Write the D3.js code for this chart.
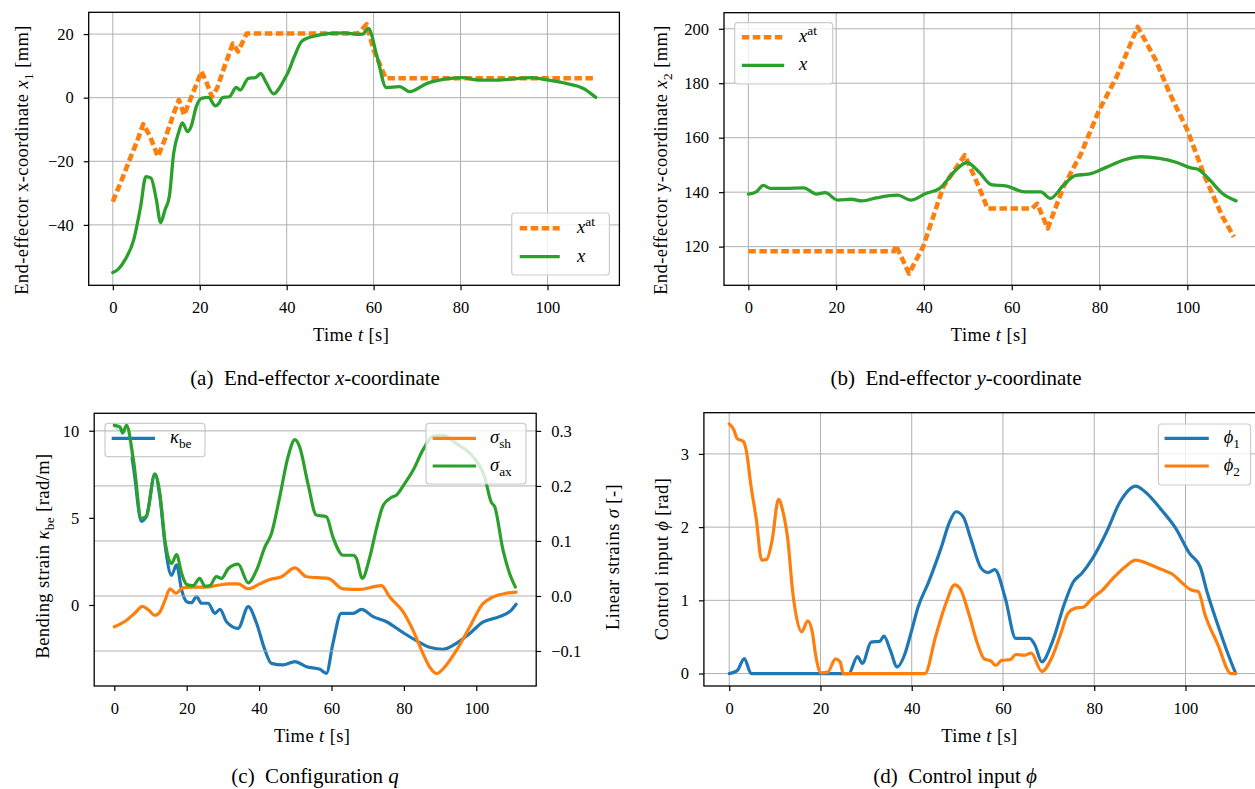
<!DOCTYPE html>
<html><head><meta charset="utf-8">
<script src="https://cdn.jsdelivr.net/npm/d3@7"></script>
<style>body{margin:0;background:#fff}</style>
</head><body><svg id="c" width="1255" height="789"></svg>
<script>
// ---------------- DATA ----------------
const timeTicks = [0, 20, 40, 60, 80, 100];
const timeDomain = [-5.55, 116.55];

// (a) end-effector x-coordinate [mm]
const aYTicks = [-40, -20, 0, 20];
const aRef = [[0,-32.7],[2,-26],[4,-19],[5.5,-14],[7,-8.3],[8.5,-12],[10.4,-18.5],[12,-13],[14,-5],[15.2,-0.7],[16.4,-5.4],[18,0],[20.4,8.2],[21.5,5],[22.8,0.3],[24,3],[25.5,9],[27.6,17],[28.8,14.5],[30.8,20.2],[56.4,20.2],[58.4,23.1],[60,15],[62.8,6.1],[110.7,6.1]];
const aMeas = [[0,-55],[1.2,-54],[2.8,-51],[4.8,-44.7],[6.4,-34.2],[7.6,-24.8],[8.8,-25.3],[10,-32],[11,-39.3],[12,-35.3],[13,-31.1],[14,-17.5],[15.2,-10.7],[16,-7.9],[17.2,-10.7],[18,-9.1],[19.2,-2.8],[20.4,-0.2],[22,0.1],[23.6,-2.6],[24.4,-1.8],[25.2,0],[26.8,0.3],[28.4,3.2],[29.3,2.4],[31.2,6.1],[32.8,6.3],[34,7.6],[35.2,5],[37,1.2],[38.4,3.2],[39.6,6.1],[40.4,8.2],[41.6,12.4],[43.6,17.9],[46.8,19.5],[50,20.2],[53.2,20.4],[56.4,19.9],[57.5,20],[58.8,21.8],[60.8,12.9],[62.9,3.2],[66,3.5],[68.3,1.9],[72.3,4.5],[76.3,5.8],[80.3,6.3],[84.3,5.5],[88.3,5.5],[92.3,5.9],[96.3,6.3],[100.3,5.5],[104.3,4.5],[108.3,2.9],[111.1,0.1]];

// (b) end-effector y-coordinate [mm]
const bYTicks = [120, 140, 160, 180, 200];
const bRef = [[0,118.3],[33.2,118.3],[33.6,120.5],[36.6,110.1],[39.8,119.9],[44.4,142],[49.3,153.6],[52.5,142],[54.5,134],[64.6,134],[65.8,135.8],[68.2,126.7],[71.8,142],[75.8,154.2],[79.9,170.1],[83.9,182.4],[88.7,200.7],[92.8,188.5],[96,176.2],[100,162.8],[104,145.6],[108,131],[110.6,123.6]];
const bMeas = [[0,139.3],[1.8,140.1],[3.4,142.5],[5,141.4],[8.2,141.4],[12.6,141.6],[15.5,139.3],[17.5,139.8],[20.3,137.1],[23.5,137.4],[25.9,136.8],[29.1,137.9],[34,138.9],[37,137.1],[40.4,139.5],[43.6,141.4],[46.9,147.5],[49.8,150.9],[52.5,147.5],[55.3,142.8],[58.9,142.2],[63,140.1],[66.6,140.1],[68.8,137.7],[71.8,142.6],[74.6,146.2],[77.5,146.6],[81.5,149.1],[85.5,151.8],[89.5,153],[93.6,152.4],[97.6,150.9],[100.8,148.9],[102.4,148.4],[104.8,145],[108,139.5],[111.1,136.8]];

// (c) configuration q
const cLeftTicks = [0, 5, 10];
const cRightTicks = [-0.1, 0.0, 0.1, 0.2, 0.3];
const cKappa = [[0,10.27],[2,10],[3.4,10.2],[5.3,7.9],[7.5,4.8],[8.9,5.1],[11.2,7.5],[12.6,6.2],[14,3.5],[15.8,1.7],[17.2,2.3],[18.6,0.86],[20,0.19],[21.3,0.13],[22.7,0.48],[24.1,0.1],[25.9,0.1],[27.8,-0.48],[29.2,-0.25],[31,-0.96],[34.2,-1.34],[37,-0.1],[39.3,-1.05],[41.6,-2.58],[43.4,-3.35],[46.6,-3.44],[49.9,-3.25],[53.1,-3.54],[56.8,-3.69],[58.6,-3.92],[60.4,-2.2],[62.7,-0.48],[66,-0.48],[68.3,-0.25],[71.5,-0.67],[75.2,-0.96],[79.8,-1.59],[83.9,-2.1],[87.1,-2.43],[90.8,-2.54],[94.5,-2.2],[98.2,-1.63],[101.8,-0.99],[106.4,-0.67],[109.7,-0.29],[111,0.04]];
const cSigmaSh = [[0,-0.056],[3.4,-0.044],[5.7,-0.031],[7.8,-0.019],[9.4,-0.025],[11.2,-0.035],[12.6,-0.029],[14,-0.008],[15.4,0.013],[17,0.005],[19,0.015],[21.8,0.016],[25.5,0.016],[28.2,0.019],[31.9,0.022],[34.2,0.022],[37,0.013],[40.2,0.022],[43,0.03],[46.2,0.035],[49.9,0.051],[53.1,0.035],[59.1,0.032],[63.2,0.013],[67.8,0.012],[73.8,0.019],[76.1,-0.002],[79.8,-0.029],[82.5,-0.062],[85.3,-0.105],[87.1,-0.129],[89,-0.141],[91.3,-0.129],[94.5,-0.099],[98.2,-0.056],[101.8,-0.014],[104.6,-0.002],[108.3,0.005],[111,0.007]];
const cSigmaAx = [[0,0.31],[1.6,0.307],[2.3,0.296],[3.4,0.31],[5.3,0.247],[7.5,0.141],[8.9,0.145],[11.2,0.222],[12.6,0.186],[14,0.101],[15.8,0.059],[17.2,0.075],[18.6,0.041],[20,0.021],[21.8,0.019],[23.6,0.032],[25,0.018],[26.4,0.019],[28.2,0.035],[29.6,0.032],[31.5,0.05],[34.2,0.058],[37,0.024],[39.3,0.047],[41.6,0.089],[43.4,0.113],[45.7,0.18],[48,0.253],[49.9,0.284],[51.2,0.271],[53.5,0.204],[55.8,0.147],[58.6,0.144],[60.4,0.107],[63.2,0.074],[66,0.074],[66.9,0.068],[68.5,0.032],[70.6,0.071],[72.4,0.122],[74.3,0.165],[76.5,0.179],[77.9,0.183],[80.2,0.204],[82.5,0.228],[85.3,0.266],[88,0.29],[90.8,0.292],[94.5,0.277],[99.1,0.253],[102.3,0.216],[104.1,0.171],[105.1,0.162],[107.4,0.083],[109.2,0.041],[110.8,0.016]];

// (d) control input
const dYTicks = [0, 1, 2, 3];
const dPhi1 = [[0,0],[1.75,0.04],[3.3,0.205],[4.8,0],[26.2,0],[28.1,0.23],[29.2,0.14],[31.1,0.43],[33,0.44],[33.9,0.51],[35.3,0.32],[36.8,0.09],[38.4,0.25],[39.9,0.57],[41.4,0.91],[43.7,1.25],[46.4,1.71],[48.3,2.07],[49.7,2.21],[51.3,2.14],[52.9,1.85],[55.2,1.44],[56.7,1.38],[58.2,1.42],[60.5,1.03],[62.8,0.48],[65.8,0.48],[67,0.39],[68.5,0.16],[70.8,0.43],[73.5,0.96],[75.4,1.25],[77.3,1.37],[79.6,1.57],[82.6,1.92],[85.7,2.35],[89.1,2.56],[91,2.49],[94.8,2.23],[97.9,1.98],[100.9,1.64],[103.2,1.46],[104.7,1.12],[107,0.68],[109.3,0.27],[111,0]];
const dPhi2 = [[0,3.41],[1,3.33],[1.75,3.21],[3.1,3.17],[3.7,3.06],[4.8,2.55],[5.95,2.1],[7.1,1.55],[8.2,1.56],[9.4,1.82],[10.8,2.38],[11.7,2.23],[12.8,1.85],[13.96,1.09],[15.9,0.57],[17.2,0.72],[18.2,0.57],[18.9,0.27],[20.1,0.01],[21.6,0.02],[23.3,0.2],[24.3,0.16],[25,0],[42.9,0],[45.2,0.5],[47.5,0.96],[49.4,1.21],[50.6,1.16],[52.5,0.82],[54.4,0.41],[55.9,0.2],[57.4,0.17],[58.4,0.11],[59.7,0.18],[61.6,0.19],[62.8,0.26],[64.7,0.25],[66.2,0.28],[68.5,0.03],[70.8,0.23],[72.7,0.55],[74.2,0.82],[75.7,0.89],[77.7,0.91],[79.6,1.03],[81.8,1.14],[84.1,1.3],[86.8,1.46],[89.1,1.55],[91.8,1.5],[94.8,1.42],[97.1,1.36],[99.4,1.23],[101.3,1.14],[102.8,1.12],[104.3,0.8],[107,0.41],[110,0],[111,0]];

// ---------------- STYLE ----------------
const FONT = "'Liberation Serif', 'DejaVu Serif', serif";
const FS = 16.5;     // tick labels
const FL = 18.5;     // axis labels
const FC = 21;       // captions
const FLEG = 18.5;   // legend text
const BLUE = "#1f77b4", ORANGE = "#ff7f0e", GREEN = "#2ca02c";
const GRID = "#b0b0b0";
const svg = d3.select("#c");
svg.append("rect").attr("width",1255).attr("height",789).attr("fill","#fff");

function rich(sel, parts, fs){
  let cur = 0;
  parts.forEach(p => {
    const ts = sel.append("tspan").text(p.s);
    let target = 0, size = fs;
    if (p.sub){ target = fs*0.28; size = fs*0.72; }
    if (p.sup){ target = -fs*0.38; size = fs*0.72; }
    if (target !== cur){ ts.attr("dy", target-cur); cur = target; }
    ts.attr("font-size", size);
    if (p.it) ts.attr("font-style","italic");
  });
  return sel;
}
function label(x, y, parts, fs, anchor, rot, ls){
  const t = svg.append("text").attr("font-family",FONT).attr("font-size",fs)
    .attr("text-anchor",anchor||"middle").attr("fill","#000");
  if (ls) t.attr("letter-spacing", ls);
  if (rot) t.attr("transform",`translate(${x},${y}) rotate(-90)`);
  else t.attr("x",x).attr("y",y);
  return rich(t, parts, fs);
}
const fmtNum = d => (d<0?"\u2212":"") + Math.abs(d);
const fmt1 = d => (d<0?"\u2212":"") + Math.abs(d).toFixed(1);

function styleAxis(g){
  g.select(".domain").remove();
  g.selectAll("line").attr("stroke","#000").attr("stroke-width",1.2);
  g.selectAll("text").attr("font-family",FONT).attr("font-size",FS).attr("fill","#000");
}
function frame(L){
  svg.append("rect").attr("x",L.l).attr("y",L.t).attr("width",L.r-L.l).attr("height",L.b-L.t)
    .attr("fill","none").attr("stroke","#000").attr("stroke-width",1.3);
}
function vgrid(L, x){
  svg.append("g").selectAll("line").data(timeTicks).join("line")
    .attr("x1",d=>x(d)).attr("x2",d=>x(d)).attr("y1",L.t).attr("y2",L.b)
    .attr("stroke",GRID).attr("stroke-width",1);
}
function hgrid(L, y, ticks){
  svg.append("g").selectAll("line").data(ticks).join("line")
    .attr("y1",d=>y(d)).attr("y2",d=>y(d)).attr("x1",L.l).attr("x2",L.r)
    .attr("stroke",GRID).attr("stroke-width",1);
}
function clipFor(id, L){
  svg.append("clipPath").attr("id",id).append("rect")
    .attr("x",L.l).attr("y",L.t).attr("width",L.r-L.l).attr("height",L.b-L.t);
}
function drawLine(data, x, y, color, opts){
  opts = opts||{};
  const gen = d3.line().x(d=>x(d[0])).y(d=>y(d[1]))
    .curve(opts.linear ? d3.curveLinear : d3.curveMonotoneX);
  const p = svg.append("path").datum(data).attr("d",gen)
    .attr("fill","none").attr("stroke",color).attr("stroke-width",opts.w||3.2)
    .attr("stroke-linejoin","round").attr("stroke-linecap", opts.dash?"butt":"round");
  if (opts.dash) p.attr("stroke-dasharray",opts.dash);
  if (opts.clip) p.attr("clip-path",`url(#${opts.clip})`);
}
function xAxis(L, x){
  const g = svg.append("g").attr("transform",`translate(0,${L.b})`)
    .call(d3.axisBottom(x).tickValues(timeTicks).tickSize(5).tickPadding(11).tickFormat(fmtNum));
  styleAxis(g);
  label((L.l+L.r)/2 - 3, L.b+56, [{s:"Time "},{s:"t",it:true},{s:" [s]"}], FL, "middle", false, 0.4);
}
function yAxisLeft(L, y, ticks, f){
  const g = svg.append("g").attr("transform",`translate(${L.l},0)`)
    .call(d3.axisLeft(y).tickValues(ticks).tickSize(5).tickPadding(10).tickFormat(f||fmtNum));
  styleAxis(g);
}
function legend(box, entries, lx1, lx2, tx){
  svg.append("rect").attr("x",box[0]).attr("y",box[1]).attr("width",box[2]-box[0]).attr("height",box[3]-box[1])
    .attr("rx",3).attr("fill","#fff").attr("fill-opacity",0.8).attr("stroke","#cccccc").attr("stroke-width",1.2);
  entries.forEach(e => {
    const ln = svg.append("line").attr("x1",lx1).attr("x2",lx2).attr("y1",e.y).attr("y2",e.y)
      .attr("stroke",e.color).attr("stroke-width",e.w||3.2);
    if (e.dash) ln.attr("stroke-dasharray",e.dash);
    label(tx, e.y+5, e.parts, FLEG, "start");
  });
}
const DASH = "7.5,3.5";

// ---------------- PANEL (a) ----------------
const LA = {l:88.7, r:619.4, t:12.3, b:285.3};
const xa = d3.scaleLinear().domain(timeDomain).range([LA.l, LA.r]);
const ya = d3.scaleLinear().domain([-59.0, 26.85]).range([LA.b, LA.t]);
clipFor("ca", LA);
vgrid(LA, xa); hgrid(LA, ya, aYTicks);
drawLine(aRef, xa, ya, ORANGE, {linear:true, dash:DASH, w:4.6, clip:"ca"});
drawLine(aMeas, xa, ya, GREEN, {w:3.3, clip:"ca"});
legend([511.7,213,609.4,275], [
  {y:228.3, color:ORANGE, dash:DASH, w:4.6, parts:[{s:"x",it:true},{s:"at",sup:true}]},
  {y:256.7, color:GREEN, w:3.3, parts:[{s:"x",it:true}]}], 519.7, 559.7, 577);
frame(LA); xAxis(LA, xa); yAxisLeft(LA, ya, aYTicks);
label(28, 160, [{s:"End-effector x-coordinate "},{s:"x",it:true},{s:"1",sub:true},{s:" [mm]"}], FL, "middle", true, 0.4);
label(315, 385, [{s:"(a)\u00a0\u00a0End-effector "},{s:"x",it:true},{s:"-coordinate"}], FC);

// ---------------- PANEL (b) ----------------
const LB = {l:724, r:1260, t:12.7, b:285.3};
const xb = d3.scaleLinear().domain(timeDomain).range([LB.l, LB.r]);
const yb = d3.scaleLinear().domain([105.8, 205.9]).range([LB.b, LB.t]);
clipFor("cb", LB);
vgrid(LB, xb); hgrid(LB, yb, bYTicks);
drawLine(bRef, xb, yb, ORANGE, {linear:true, dash:DASH, w:4.6, clip:"cb"});
drawLine(bMeas, xb, yb, GREEN, {w:3.3, clip:"cb"});
legend([734.7,22.7,832.7,84], [
  {y:37.3, color:ORANGE, dash:DASH, w:4.6, parts:[{s:"x",it:true},{s:"at",sup:true}]},
  {y:65.3, color:GREEN, w:3.3, parts:[{s:"x",it:true}]}], 741.8, 784.2, 799);
frame(LB); xAxis(LB, xb); yAxisLeft(LB, yb, bYTicks);
label(667, 160, [{s:"End-effector y-coordinate "},{s:"x",it:true},{s:"2",sub:true},{s:" [mm]"}], FL, "middle", true, 0.4);
label(956, 385, [{s:"(b)\u00a0\u00a0End-effector "},{s:"y",it:true},{s:"-coordinate"}], FC);

// ---------------- PANEL (c) ----------------
const LC = {l:94.2, r:536.2, t:413.3, b:686};
const xc = d3.scaleLinear().domain(timeDomain).range([LC.l, LC.r]);
const ycL = d3.scaleLinear().domain([-4.65, 11.0]).range([LC.b, LC.t]);
const ycR = d3.scaleLinear().domain([-0.1636, 0.332]).range([LC.b, LC.t]);
clipFor("cc", LC);
drawLine(cKappa, xc, ycL, BLUE, {w:3.2, clip:"cc"});
legend([105,423.3,205,456.7], [
  {y:438.3, color:BLUE, parts:[{s:"\u03ba",it:true},{s:"be",sub:true}]}], 111.7, 155, 170);
hgrid(LC, ycR, cRightTicks);
drawLine(cSigmaSh, xc, ycR, ORANGE, {w:3.2, clip:"cc"});
drawLine(cSigmaAx, xc, ycR, GREEN, {w:3.2, clip:"cc"});
legend([426,423.3,526,484], [
  {y:438.3, color:ORANGE, parts:[{s:"\u03c3",it:true},{s:"sh",sub:true}]},
  {y:466, color:GREEN, parts:[{s:"\u03c3",it:true},{s:"ax",sub:true}]}], 432.7, 476, 490);
frame(LC); xAxis(LC, xc); yAxisLeft(LC, ycL, cLeftTicks);
{
  const g = svg.append("g").attr("transform",`translate(${LC.r},0)`)
    .call(d3.axisRight(ycR).tickValues(cRightTicks).tickSize(5).tickPadding(10).tickFormat(fmt1));
  styleAxis(g);
}
label(49, 556, [{s:"Bending strain "},{s:"\u03ba",it:true},{s:"be",sub:true},{s:" [rad/m]"}], FL, "middle", true, 0.4);
label(619, 557, [{s:"Linear strains "},{s:"\u03c3",it:true},{s:" [-]"}], FL, "middle", true, 0.4);
label(315, 783, [{s:"(c)\u00a0\u00a0Configuration "},{s:"q",it:true}], FC);

// ---------------- PANEL (d) ----------------
const LD = {l:703.9, r:1261, t:412.7, b:686};
const xd = d3.scaleLinear().domain(timeDomain).range([LD.l, LD.r]);
const yd = d3.scaleLinear().domain([-0.17, 3.563]).range([LD.b, LD.t]);
clipFor("cd", LD);
vgrid(LD, xd); hgrid(LD, yd, dYTicks);
drawLine(dPhi1, xd, yd, BLUE, {w:3.2, clip:"cd"});
drawLine(dPhi2, xd, yd, ORANGE, {w:3.2, clip:"cd"});
legend([1158.4,424,1250.5,485], [
  {y:438.3, color:BLUE, parts:[{s:"\u03d5",it:true},{s:"1",sub:true}]},
  {y:466, color:ORANGE, parts:[{s:"\u03d5",it:true},{s:"2",sub:true}]}], 1164.6, 1208.8, 1223.7);
frame(LD); xAxis(LD, xd); yAxisLeft(LD, yd, dYTicks);
label(668, 559, [{s:"Control input "},{s:"\u03d5",it:true},{s:" [rad]"}], FL, "middle", true, 0.4);
label(955, 783, [{s:"(d)\u00a0\u00a0Control input "},{s:"\u03d5",it:true}], FC);
</script></body></html>
